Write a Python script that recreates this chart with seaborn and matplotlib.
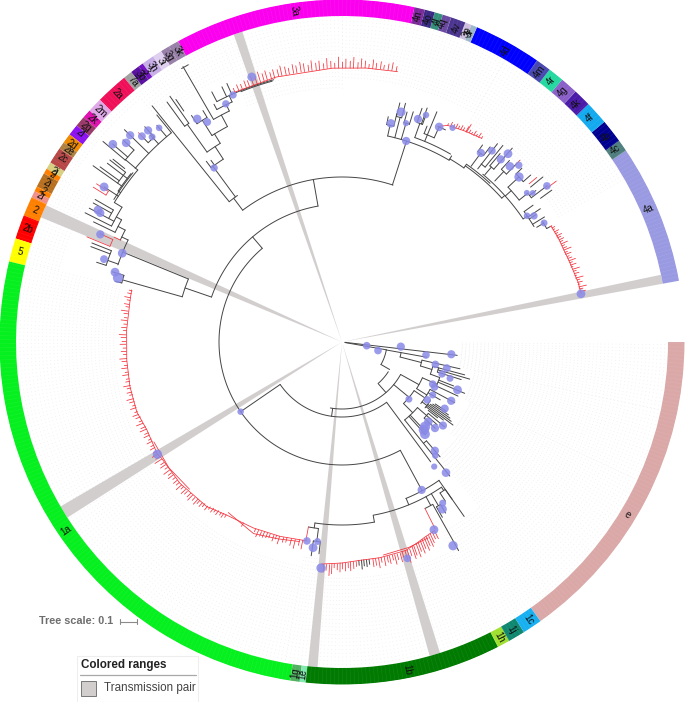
import numpy as np
import pandas as pd
import matplotlib
matplotlib.use("Agg")
import matplotlib.pyplot as plt
from matplotlib.patches import Rectangle
import seaborn as sns

sns.set_theme(style="white")
plt.rcParams["font.family"] = ["Liberation Sans", "DejaVu Sans"]

# I. RING OF GENOTYPES (angles in degrees, counter clockwise from east)

ring_labels = ["e", "4a", "4c", "4b", "4f", "4k", "4g", "4r", "4m", "4d", "3r", "3p", "4v", "4q", "4l", "4o", "4n",
               "3a", "3k", "3g", "3i", "3h", "3", "3b", "7a", "2a", "2m", "2k", "2q", "2l", "2d", "2e", "2c", "2j",
               "2", "2i", "2", "2r", "2", "2b", "5", "1a", "1g", "1e", "1b", "1h", "1j", "1c"]
ring_start = [-54.6, 10.3, 34.0, 36.0, 40.0, 44.0, 47.0, 50.0, 52.7, 55.3, 66.8, 67.8, 68.9, 71.4, 72.9, 74.3, 76.0,
              77.8, 118.6, 120.3, 121.9, 123.5, 125.6, 126.4, 128.0, 129.5, 135.0, 137.5, 139.0, 140.8, 142.7, 144.4,
              145.6, 148.4, 149.6, 150.5, 153.0, 153.9, 155.0, 158.3, 162.4, 166.4, 261.3, 262.9, 263.9, 297.1, 299.2,
              302.1]
ring_end = [0.0, 34.0, 36.0, 40.0, 44.0, 47.0, 50.0, 52.7, 55.3, 66.8, 67.8, 68.9, 71.4, 72.9, 74.3, 76.0, 77.8,
            118.6, 120.3, 121.9, 123.5, 125.6, 126.4, 128.0, 129.5, 135.0, 137.5, 139.0, 140.8, 142.7, 144.4, 145.6,
            148.4, 149.6, 150.5, 153.0, 153.9, 155.0, 158.3, 162.4, 166.4, 261.3, 262.9, 263.9, 297.1, 299.2, 302.1,
            305.4]
ring_colors = ["#DBA8A8", "#9A9AE2", "#4F7F7F", "#000090", "#14AAF0", "#4A1AA8", "#8A60C8", "#25D8A0", "#4848B0",
               "#0000FF", "#9CB8C8", "#D0C0E0", "#4B3590", "#6A4AA0", "#35907A", "#3A2A85", "#7A2A98",
               "#FA00EE", "#9880A8", "#9880A8", "#E0D0F0", "#C8AEE8", "#7010C0", "#5A10A0", "#A0A0A0", "#F0105A",
               "#E0A8E8", "#E010B0", "#9A3A6A", "#8C10F0", "#F08A00", "#B08040", "#B84848", "#D8D080",
               "#FF8000", "#B87020", "#FF8000", "#F09088", "#FF8000", "#FF0000", "#FFFF00", "#05F01E", "#50B060",
               "#80E8B0", "#007A00", "#A0E030", "#108870", "#18B0F0"]
label_theta = [-31.2, 23.4, 35.1, 37.8, 42.1, 45.4, 48.6, 51.3, 53.9, 60.7, 67.6, 68.1, 70.0, 72.4, 73.4, 75.1, 76.8,
               98.1, 119.5, 121.3, 122.8, 124.5, 126.0, 127.1, 128.7, 132.2, 136.3, 138.3, 139.9, 141.4, 143.9, 145.0,
               146.7, 149.3, 150.0, 151.7, 153.3, 154.2, 156.8, 160.2, 164.4, 214.4, 262.0, 263.3, 281.2, 298.1, 300.5,
               303.9]

# Transmission pair wedges
wedge_start = [10.3, 107.8, 155.2, 210.3, 264.0, -74.4]
wedge_end = [11.9, 109.4, 157.5, 212.6, 265.7, -72.5]

# Where the dotted leaf guides begin: sector start, sector end, inner radius
guide_start = [-12, -25, -40, -50, -62, -96, -100, -194, -210, -230, -240, -248, -270, -300, -330]
guide_end = [0, -12, -25, -40, -50, -62, -96, -100, -194, -210, -230, -240, -248, -270, -300]
guide_inner = [120, 136, 142, 150, 215, 236, 218, 228, 292, 316, 288, 290, 254, 264, 250]

# II. TREE BRANCHES: radial = (angle, r from, r to), arc = (radius, angle from, angle to)

backbone_radial = [(-10.0, 3, 45), (-30, 45, 55), (-49, 55, 67), (262, 67, 75), (214.5, 75, 123), (130.4, 123, 138),
                   (100, 138, 165), (161, 138, 166), (157.7, 166, 237), (164.2, 166, 228), (127, 165, 180),
                   (72.2, 165, 211), (-53.5, 75, 149), (-61.7, 123, 169)]
backbone_arc = [(45, -30, -10), (55, -48.7, -32.7), (67, -100, -29), (75, 214.5, 306.5), (123, 130.4, 298.3),
                (138, 100, 161), (166, 157.7, 164.2), (165, 72, 127)]

clade_e_radial = [(-6.6, 3, 116), (-10.2, 45, 86), (-14.5, 60, 82), (-12.8, 82, 121), (-17, 82, 94), (-15, 94, 127),
                  (-16.2, 100, 133), (-17.5, 100, 125), (-20, 94, 104), (-22.7, 104, 133), (-21.5, 104, 120),
                  (-29, 67, 88), (-24, 88, 104), (-25, 104, 128), (-32, 88, 100), (-28.3, 100, 128), (-30.5, 100, 114),
                  (-39.5, 67, 87), (-34, 87, 100), (-33.6, 112, 125), (-34.4, 110, 129), (-35.2, 108, 132),
                  (-36, 106, 135), (-36.8, 100, 138.6), (-37.6, 106, 128), (-38.4, 110, 122), (-41, 100, 126),
                  (-39.6, 112, 133), (-42.8, 112, 127), (-45, 87, 100), (-51.2, 100, 172), (-47, 100, 123),
                  (-49.5, 130, 151), (-48, 100, 125)]
clade_e_arc = [(60, -14.5, -10.2), (82, -17, -12.8), (94, -20, -15), (100, -17.5, -15), (104, -25, -20),
               (88, -32, -24), (100, -33.5, -28.3), (87, -45, -34), (100, -38, -34), (106, -38.4, -33.6),
               (100, -51.2, -41), (112, -42.8, -39.6), (130, -51.2, -49.5)]

clade_1_radial = [(-55, 169, 213), (-67.7, 169, 176), (-55.6, 176, 180), (-55, 180, 192), (-57, 180, 190),
                  (-59.5, 176, 190), (-58.8, 190, 200), (-60.2, 190, 202), (-61.5, 176, 186), (-60.8, 186, 239),
                  (-79.8, 176, 183), (-98.5, 183, 188), (-97.2, 188, 201), (-98.2, 201, 216), (-96.2, 201, 213)]
clade_1_arc = [(169, -67.8, -54.9), (176, -79.7, -55.6), (180, -57, -55), (190, -60.2, -58.8), (186, -63.5, -60.8),
               (183, -98.5, -79.8), (188, -100.3, -97.2), (201, -98.2, -96.2)]

clade_2_radial = [(160.8, 237, 248), (158.4, 248, 269), (159.2, 248, 268.7), (162, 248, 258), (163, 228, 240),
                  (165, 228, 235), (154.5, 237, 244), (152.7, 244, 252), (154.2, 252, 276), (151, 252, 258),
                  (153.3, 258, 287.6), (152.1, 258, 286), (150.8, 264, 285), (150, 264, 285), (148.5, 258, 267),
                  (146.9, 267, 284), (146, 267, 270), (144.7, 270, 305), (144.1, 275, 298.6), (142.7, 270, 295),
                  (141.9, 275, 295), (141.4, 278, 293), (139.9, 267, 283), (140, 283, 312), (139.2, 283, 303),
                  (137.3, 283, 298), (135.7, 270, 304), (134.2, 278, 285), (132.5, 278, 292), (132.8, 270, 282),
                  (130.5, 270, 285), (129.2, 270, 293)]
clade_2_arc = [(237, 154.5, 161), (248, 158.4, 162), (228, 163, 165), (244, 152.7, 155.3), (252, 151, 154.2),
               (258, 148.5, 153.3), (264, 150, 152.1), (267, 139.9, 148.5), (269, 141, 148), (270, 141.4, 146),
               (275, 141.9, 144.7), (283, 137.3, 140), (270, 129.2, 140), (278, 132.5, 134.2)]

clade_3_radial = [(128.8, 180, 303), (126.3, 180, 218), (126.9, 218, 226), (125.8, 218, 224), (123, 218, 233),
                  (125.4, 233, 267), (126.1, 267, 297), (125, 267, 300), (124.4, 280, 294), (121.5, 233, 244),
                  (122.2, 244, 262), (123.6, 262, 272), (121, 262, 270), (118, 244, 257), (120, 257, 318),
                  (116, 257, 264), (118.3, 264, 270), (114.6, 264, 271), (117.5, 271, 282), (115.2, 271, 282),
                  (114, 271, 283)]
clade_3_arc = [(180, 125.5, 128.8), (218, 123, 126.9), (233, 121.5, 125.4), (267, 125, 126.1), (244, 118, 122.2),
               (262, 121, 123.6), (257, 116, 120), (317, 119, 120.4), (264, 114.6, 118.3), (271, 113.4, 117.5),
               (271, 104.6, 113.4), (270, 105, 112)]

clade_4_radial = [(59.5, 211, 216), (77.5, 211, 222), (78.4, 222, 230), (76.5, 222, 235), (75.5, 211, 232),
                  (76.4, 232, 246), (75.1, 232, 247), (73.7, 211, 228), (74.2, 228, 239), (72.8, 228, 241),
                  (70.4, 217, 232), (71.1, 232, 247), (70, 232, 249), (69.7, 232, 242), (67.6, 217, 249),
                  (65.7, 224, 236), (68.5, 224, 232), (55, 212.5, 217), (42, 215, 219), (53.7, 218, 234),
                  (54.5, 234, 242), (52.8, 234, 245), (51.9, 220, 252), (50.7, 226, 254), (49.5, 220, 230),
                  (50, 230, 246), (48.7, 230, 258), (46.5, 222, 235), (47.3, 235, 247), (45.6, 235, 249),
                  (41.8, 219, 227), (43, 227, 242), (44, 242, 250), (41.5, 242, 252), (38.7, 227, 238),
                  (38, 238, 246), (39.4, 244, 260), (37.3, 238, 258), (35.9, 245, 259), (34.2, 219, 224),
                  (35.6, 224, 235), (33.9, 224, 239), (33.3, 224, 232), (31.7, 224, 238), (30.5, 226, 234),
                  (29, 234, 238)]
clade_4_arc = [(211, 59.5, 77.5), (217, 60, 70.4), (222, 76.5, 78.4), (232, 75.1, 76.4), (228, 72.8, 74.2),
               (232, 69.7, 71.1), (224, 65.7, 68.5), (236, 64, 66), (212.5, 55, 59.5), (215, 42, 55), (217, 47, 55),
               (219, 42.2, 50), (219, 34.2, 42), (234, 52.8, 54.5), (226, 50.7, 52), (230, 48.7, 50),
               (235, 45.6, 47.3), (227, 38.7, 43), (242, 41.5, 44), (238, 37.3, 38.7), (224, 31, 35.6), (234, 29, 31)]

red_radial = [(-63.5, 186, 209), (-100.3, 188, 202), (155.3, 244, 251), (157.6, 251, 276), (155.9, 251, 265),
              (148.1, 278, 293), (147.2, 278, 292), (134.2, 285, 292), (45.6, 249, 254.6), (40.2, 245, 255),
              (36.9, 255, 268), (29, 238, 240)]
red_arc = [(251, 155.9, 157.6), (278, 147.2, 148.1)]

# Combs of near identical leaves
spine_1a_theta = [260, 252.3, 244.5, 236.3, 230.6, 221.1, 212.8, 211.3, 204.3, 198.8, 191.9, 184.8, 176.8, 168.8, 166.1]
spine_1a_r = [202, 204, 206, 208, 213, 215, 214.6, 216, 214, 216.8, 216.7, 216, 215.7, 216, 216.7]
spine_1a_extra_theta = [236.3, 245.2, 252, 258]
spine_1a_extra_r = [205, 211, 207, 204]
spine_1a_third_theta = [208, 216, 224]
spine_1a_third_r = [213, 214, 212]
theta_1a = [258.8, 257.9, 256.7, 255.6, 254.3, 253.4, 252.2, 251.3, 250.6, 249.5, 248.7, 247.8,
            247.0, 246.1, 245.2, 241.4, 236.2, 235.4, 234.7, 233.8, 233.0, 232.3, 231.4, 230.7,
            229.7, 229.0, 228.1, 227.5, 226.6, 225.7, 225.0, 224.0, 223.3, 222.4, 221.7, 220.8,
            220.0, 219.1, 218.2, 217.5, 216.6, 215.7, 214.8, 214.1, 213.0, 212.2, 211.3, 210.5,
            209.4, 208.7, 207.6, 206.9, 205.8, 205.1, 204.0, 203.3, 202.2, 201.5, 200.4, 199.6,
            198.8, 197.7, 197.0, 196.0, 195.2, 194.1, 193.4, 192.3, 191.6, 190.5, 189.8, 188.7,
            188.0, 186.9, 186.2, 185.1, 184.4, 183.3, 182.5, 181.6, 180.6, 179.9, 178.8, 178.1,
            177.0, 176.2, 175.3, 174.3, 173.6, 172.5, 171.8, 170.7, 170.0, 168.9, 168.2, 167.1, 166.3]
base_1a = [202, 202, 203, 203, 203, 204, 204, 204, 205, 205, 205, 205,
           206, 206, 206, 206, 208, 208, 209, 209, 210, 210, 211, 212,
           212, 213, 213, 213, 214, 214, 214, 215, 215, 215, 215, 215,
           215, 215, 215, 215, 215, 215, 215, 215, 215, 215, 216, 216,
           215, 215, 214, 214, 214, 214, 214, 214, 215, 215, 215, 216,
           216, 216, 216, 216, 216, 216, 216, 216, 216, 216, 216, 216,
           216, 216, 216, 216, 216, 216, 216, 216, 216, 216, 216, 216,
           216, 216, 216, 216, 216, 216, 216, 216, 216, 216, 216, 216, 216]
tip_1a = [211, 208, 212, 210, 208, 209, 212, 208, 211, 209, 210, 211,
          211, 213, 209, 210, 211, 213, 212, 214, 213, 215, 214, 217,
          216, 218, 217, 220, 218, 221, 219, 219, 221, 218, 222, 219,
          220, 218, 221, 219, 222, 218, 221, 219, 223, 220, 222, 219,
          220, 218, 220, 217, 220, 218, 221, 219, 222, 218, 220, 222,
          219, 222, 219, 221, 223, 219, 221, 220, 223, 220, 219, 222,
          219, 222, 219, 221, 223, 219, 221, 219, 222, 220, 221, 223,
          219, 221, 219, 222, 219, 220, 223, 219, 221, 219, 222, 220, 219]

spine_1b_theta = [-63.9, -67, -70, -73, -80, -85, -90, -95.3]
spine_1b_r = [210, 212, 215, 218, 219, 219, 221, 223]
spine_1b_extra_theta = [-66.3, -72, -79]
spine_1b_extra_r = [214, 216, 217]
theta_1b = [-63.9, -64.6, -65.3, -65.9, -66.6, -67.2, -67.9, -68.5, -69.2, -69.8, -70.6, -71.1, -71.9, -72.6,
            -73.2, -74.0, -74.6, -75.4, -76.1, -76.7, -77.5, -78.1, -78.9, -79.7, -80.4, -81.2, -81.9,
            -86.3, -87.0, -87.8, -88.4, -89.1, -89.9, -90.5, -91.2, -92.0, -92.6, -93.2, -94.0, -94.7]
base_1b = [210, 210, 211, 212, 212, 213, 213, 214, 215, 215, 216, 216, 218, 218,
           218, 218, 219, 219, 219, 219, 219, 219, 219, 219, 219, 219, 219,
           220, 220, 220, 221, 221, 221, 221, 222, 222, 222, 223, 223, 223]
tip_1b = [219, 218, 221, 224, 222, 226, 223, 227, 224, 229, 226, 229, 225, 231,
          227, 224, 228, 225, 229, 224, 227, 225, 228, 224, 229, 226, 227,
          225, 227, 229, 226, 229, 227, 230, 228, 226, 232, 234, 229, 231]
theta_1b_black = [-82.9, -83.6, -84.3, -84.9, -85.6]
base_1b_black = [219, 219, 219, 219, 219]
tip_1b_black = [224, 226, 225, 228, 224]

spine_3a_theta = [113.4, 104, 92, 85, 78.4]
spine_3a_r = [272, 273, 274, 275, 276]
theta_3a = [113.2, 112.3, 111.5, 110.6, 109.9, 109.0, 108.2, 107.4, 106.6, 105.9, 105.0, 104.3, 103.4, 102.7, 101.8,
            101.1, 100.2, 99.5, 98.6, 97.9, 97.0, 96.3, 95.4, 94.7, 93.8, 93.1, 92.3, 91.5, 90.7, 89.9, 89.2, 88.3,
            87.6, 86.7, 86.0, 85.2, 84.4, 83.6, 82.9, 82.0, 81.3, 80.4, 79.6, 78.7]
base_3a = [272, 272, 272, 272, 272, 272, 272, 272, 272, 272, 272, 272, 273, 273, 273,
           273, 273, 273, 273, 273, 273, 273, 273, 273, 274, 274, 274, 274, 274, 274, 274, 274,
           274, 274, 275, 275, 275, 275, 275, 276, 276, 276, 276, 276]
tip_3a = [276, 278, 277, 279, 278, 281, 279, 283, 280, 282, 279, 281, 280, 283, 281,
          279, 282, 280, 283, 281, 279, 283, 280, 282, 279, 284, 281, 279, 285, 280, 283, 281,
          285, 280, 284, 282, 279, 284, 281, 283, 280, 282, 284, 281]

spine_4a_theta = [29, 25.9, 19.1, 14.3, 11.4]
spine_4a_r = [239, 240, 241.3, 243.5, 244]
theta_4a = [28.5, 28.0, 27.4, 26.9, 26.3, 25.8, 25.2, 24.7, 24.1, 23.6, 23.0, 22.5, 21.9, 21.4, 20.8, 20.3,
            19.7, 19.2, 18.6, 18.1, 17.5, 17.0, 16.4, 15.9, 15.3, 14.8, 14.2, 13.7, 13.1, 12.6, 12.0]
base_4a = [239, 239, 239, 239, 239, 239, 240, 240, 240, 240, 240, 240, 240, 240, 241, 241,
           241, 241, 241, 241, 242, 242, 242, 242, 242, 243, 243, 243, 243, 243, 243]
tip_4a = [242, 241, 244, 242, 245, 243, 245, 243, 247, 243, 244, 248, 243, 246, 243, 245,
          248, 244, 247, 243, 249, 245, 247, 244, 250, 246, 248, 245, 251, 247, 249]

spine_4b_theta = [66, 64, 60, 55.5]
spine_4b_r = [236, 241, 244, 247]
theta_4b = [64, 63.3, 62.6, 62, 61.4, 60.8, 60.2, 59.5, 59.3, 58.7, 58.1, 57.5, 56.9, 56.3, 55.6]
base_4b = [241, 241, 242, 242, 243, 243, 244, 244, 244, 245, 245, 245, 246, 246, 247]
tip_4b = [243, 246, 245, 247, 246, 248, 247, 250, 253, 248, 247, 250, 248, 251, 249]

# III. BLUE NODE MARKERS

dot_theta = [-8.5, -13.4, -4.5, -8.8, -6.4, -13.5, -14, -17.7, -18.6, -24.9, -26, -22.5, -30.3, -28.3, -33, -34.2,
             -39.6, -42.8, -40.5, -42.7, -45.6, -47, -48, -49.5, -50.6, -53.5, -51.5,
             -61.7, -59, -58, -61.4, -63.9, -73.2, -95.3, -100, -97, -98, 211.3, 214.5,
             162.9, 164, 158, 160.8, 156, 151.6, 151.9, 146.9, 139.2, 137.3, 135.7, 134.2, 132.5, 132.8, 130.5,
             126.3, 123, 121.5, 116, 113.8, 108.8,
             72.3, 77.4, 75.6, 73.7, 71.2, 69.7, 65.7, 62.7, 53.7, 51.9, 49, 48.6, 46.3, 45, 43, 37.3, 38.9, 38,
             34.3, 33.3, 30.5, 11.4]
dot_r = [25, 37, 59, 85, 110, 96, 108, 105, 114, 100, 103, 125, 105, 124, 122.4, 103,
         131, 126.7, 88, 117.5, 118.6, 120, 124, 143, 147, 155, 167,
         168, 195, 190, 232, 209, 226, 227, 202, 201, 207.7, 216, 123,
         237.5, 233, 237, 252, 264.6, 277.4, 274, 284, 302.7, 293.7, 296, 287, 287, 279.5, 281.6,
         216, 266, 258, 265, 270, 280,
         211, 224, 237.5, 228, 235.6, 242, 236, 241, 234.6, 243, 242, 251, 243, 250, 242, 257.6, 237.5, 242,
         224, 229.7, 234.5, 243.8]
dot_size = [30, 30, 35, 30, 35, 30, 32, 28, 25, 30, 28, 40, 25, 35, 35, 30,
            35, 35, 25, 38, 55, 55, 50, 35, 22, 20, 38,
            35, 40, 25, 45, 40, 30, 45, 30, 25, 40, 45, 22,
            40, 55, 40, 32, 35, 40, 35, 40, 38, 38, 35, 32, 35, 25, 22,
            28, 38, 32, 28, 28, 40,
            35, 38, 42, 20, 35, 22, 38, 20, 35, 30, 35, 40, 38, 28, 45, 30, 18, 18,
            22, 28, 25, 40]

# IV. DRAWING

CENTER_X, CENTER_Y = 342, 342
R_OUT = 342.5
R_RING = 326
DOT_COLOR = "#8A8AE8"
LINE_BLACK = "#444444"
LINE_RED = "#F5303A"


def branch_table(radials=(), arcs=(), polylines=(), ticks=()):
    # long table with one row per vertex, one id per branch
    rows = []
    branch = 0
    for theta, r0, r1 in radials:
        rows += [(branch, np.deg2rad(theta), r0), (branch, np.deg2rad(theta), r1)]
        branch += 1
    for r, t0, t1 in arcs:
        for t in np.linspace(t0, t1, max(2, int(abs(t1 - t0)) + 2)):
            rows.append((branch, np.deg2rad(t), r))
        branch += 1
    for thetas, rs in polylines:
        for t, r in zip(thetas, rs):
            rows.append((branch, np.deg2rad(t), r))
        branch += 1
    for thetas, bases, tips in ticks:
        for t, b, e in zip(thetas, bases, tips):
            rows += [(branch, np.deg2rad(t), b), (branch, np.deg2rad(t), e)]
            branch += 1
    return pd.DataFrame(rows, columns=["branch", "theta", "r"])


def draw_branches(ax, table, color, width):
    sns.lineplot(data=table, x="theta", y="r", units="branch", estimator=None, sort=False,
                 color=color, linewidth=width, legend=False, ax=ax, zorder=5)


fig = plt.figure(figsize=(6.85, 7.02), dpi=100)
ax = fig.add_axes([(CENTER_X - 343) / 685, (702 - CENTER_Y - 343) / 702, 686 / 685, 686 / 702], projection="polar")

# leaf guides
for start, end, inner in zip(guide_start, guide_end, guide_inner):
    leaves = np.deg2rad(np.arange(start, end, 0.68))
    ax.vlines(leaves, inner, R_RING, colors="#E2E2E2", linewidth=0.45, linestyles=(0, (1, 5)), zorder=1)

# transmission pairs
for start, end in zip(wedge_start, wedge_end):
    ax.bar(np.deg2rad((start + end) / 2), R_RING, width=np.deg2rad(end - start), bottom=0,
           color="#D2CECE", linewidth=0, zorder=2)

# ring
for start, end, color in zip(ring_start, ring_end, ring_colors):
    ax.bar(np.deg2rad((start + end) / 2), R_OUT - R_RING, width=np.deg2rad(end - start), bottom=R_RING,
           color=color, linewidth=0, zorder=3)
cells = np.deg2rad(np.arange(10.3, 360, 0.68))
ax.vlines(cells, R_RING, R_OUT, colors="white", linewidth=0.4, alpha=0.09, zorder=4)

black = branch_table(
    backbone_radial + clade_e_radial + clade_1_radial + clade_2_radial + clade_3_radial + clade_4_radial,
    backbone_arc + clade_e_arc + clade_1_arc + clade_2_arc + clade_3_arc + clade_4_arc,
    ticks=[(theta_1b_black, base_1b_black, tip_1b_black)])
draw_branches(ax, black, LINE_BLACK, 0.7)

red = branch_table(
    red_radial, red_arc,
    polylines=[(spine_1a_theta, spine_1a_r), (spine_1b_theta, spine_1b_r), (spine_3a_theta, spine_3a_r),
               (spine_4a_theta, spine_4a_r), (spine_4b_theta, spine_4b_r), (spine_1a_extra_theta, spine_1a_extra_r),
               (spine_1a_third_theta, spine_1a_third_r), (spine_1b_extra_theta, spine_1b_extra_r)],
    ticks=[(theta_1a, base_1a, tip_1a), (theta_1b, base_1b, tip_1b), (theta_3a, base_3a, tip_3a),
           (theta_4a, base_4a, tip_4a), (theta_4b, base_4b, tip_4b)])
draw_branches(ax, red, LINE_RED, 0.55)

dots = pd.DataFrame({"theta": np.deg2rad(dot_theta), "r": dot_r, "size": dot_size})
sns.scatterplot(data=dots, x="theta", y="r", size="size", sizes=(min(dot_size), max(dot_size)), color=DOT_COLOR,
                alpha=0.85, linewidth=0, legend=False, ax=ax, zorder=6)

for label, theta in zip(ring_labels, label_theta):
    wrapped = (theta + 180) % 360 - 180
    rotation = wrapped if abs(wrapped) <= 90 else wrapped - 180
    ax.text(np.deg2rad(theta), (R_RING + R_OUT) / 2, label, fontsize=7, color="#111111",
            rotation=rotation, rotation_mode="anchor", ha="center", va="center", zorder=7)

ax.set_ylim(0, 343)
ax.set_xlabel("")
ax.set_ylabel("")
ax.set_axis_off()

# V. TREE SCALE AND LEGEND (page coordinates in pixels)

page = fig.add_axes([0, 0, 1, 1])
page.set_xlim(0, 685)
page.set_ylim(702, 0)
page.set_axis_off()
page.patch.set_alpha(0)

page.text(39, 620.5, "Tree scale: 0.1", fontsize=7.8, fontweight="bold", color="#6E6E6E", va="center")
page.plot([120.5, 137], [621.5, 621.5], color="#8A8A8A", lw=0.8)
page.plot([120.5, 120.5], [619, 624], color="#8A8A8A", lw=0.8)
page.plot([137, 137], [619, 624], color="#8A8A8A", lw=0.8)

page.add_patch(Rectangle((77.5, 656), 121, 45.5, facecolor="white", edgecolor="#EEEEEE", lw=0.8, zorder=8))
page.text(81, 665, "Colored ranges", fontsize=8.4, fontweight="bold", color="#222222", va="center", zorder=9)
page.plot([80, 196.5], [674.5, 674.5], color="#A8A8A8", lw=0.9, zorder=9)
page.add_patch(Rectangle((81, 680.5), 15.5, 15.5, facecolor="#D2CECE", edgecolor="#777777", lw=0.7, zorder=9))
page.text(104.5, 688, "Transmission pair", fontsize=8.4, color="#444444", va="center", zorder=9)

fig.savefig("out.png", dpi=100)
